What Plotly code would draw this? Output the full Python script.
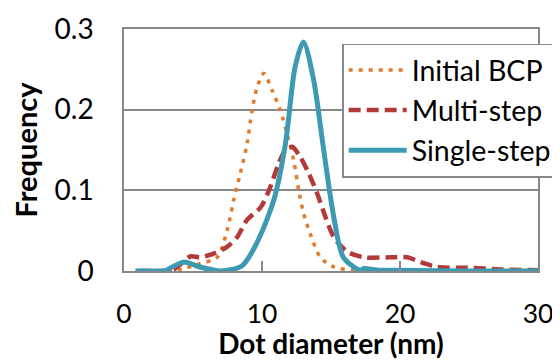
import plotly.graph_objects as go

x_initial = [1, 2, 3.6, 4.3, 5.5, 6.75, 7.47, 7.95, 8.43, 8.92, 9.28, 9.65, 10.13, 10.73, 11.33, 11.82, 12.3, 12.66, 13.02, 13.5, 14.23, 15.2, 16.6, 18, 20, 25, 30]
y_initial = [0, 0, 0, 0.003, 0.009, 0.017, 0.050, 0.088, 0.121, 0.158, 0.199, 0.228, 0.245, 0.224, 0.199, 0.170, 0.137, 0.100, 0.071, 0.046, 0.017, 0.005, 0.001, 0, 0, 0, 0]

x_multi = [1, 2, 3.6, 4.8, 5.5, 6.5, 7.47, 8.2, 8.9, 9.9, 10.6, 11.2, 11.7, 12.18, 12.78, 13.39, 14.0, 14.6, 15.2, 16.17, 17.37, 19.3, 20.5, 21.5, 22.7, 24.9, 27.3, 30]
y_multi = [0, 0, 0.002, 0.018, 0.017, 0.0215, 0.030, 0.042, 0.063, 0.079, 0.104, 0.133, 0.150, 0.154, 0.141, 0.121, 0.096, 0.067, 0.042, 0.024, 0.017, 0.017, 0.017, 0.011, 0.005, 0.004, 0.002, 0.001]

x_single = [0.83, 2, 2.9, 4.3, 5.5, 7.0, 8.56, 9.6, 10.85, 11.7, 12.4, 13.0, 13.75, 14.47, 15.2, 15.9, 17.1, 17.4, 18.5, 20, 25, 30]
y_single = [0, 0, 0, 0.011, 0.005, 0, 0.0066, 0.034, 0.0876, 0.158, 0.253, 0.284, 0.236, 0.150, 0.067, 0.017, 0.001, 0.003, 0.001, 0.001, 0, 0]

series_names = ["Initial BCP", "Multi-step", "Single-step"]
x_ticks = [0, 10, 20, 30]
y_ticks = [0, 0.1, 0.2, 0.3]
y_tick_labels = ["0", "0.1", "0.2", "0.3"]

FONT = "Lato"

fig = go.Figure()
fig.add_trace(go.Scatter(
    x=x_initial, y=y_initial, name=series_names[0], mode="lines", legendgroup="a",
    line=dict(color="#E07B2E", width=3.5, dash="4px,6px", shape="spline", smoothing=0.8),
))
fig.add_trace(go.Scatter(
    x=x_multi, y=y_multi, name=series_names[1], mode="lines", legendgroup="b",
    line=dict(color="#B33A3A", width=4.5, dash="12px,6px", shape="spline", smoothing=0.8),
))
fig.add_trace(go.Scatter(
    x=x_single, y=y_single, name=series_names[2], mode="lines", legendgroup="c",
    line=dict(color="#3C9AB2", width=5, shape="spline", smoothing=0.8),
))

# the page places the figure 8px from the top-left corner
fig.update_layout(
    width=552, height=352,
    margin=dict(l=115.5, r=22.3, t=20.5, b=89.3, autoexpand=False),
    paper_bgcolor="white", plot_bgcolor="white",
    font=dict(family=FONT, size=28, color="black"),
    showlegend=True,
    legend=dict(
        x=0.527, y=0.94, xanchor="left", yanchor="top",
        bgcolor="white", bordercolor="#888888", borderwidth=1.5,
        font=dict(family=FONT, size=28.5, color="black"),
        itemwidth=58, tracegroupgap=0, traceorder="grouped",
    ),
)
fig.update_xaxes(
    range=[0, 30], tickvals=x_ticks, ticktext=[str(t) for t in x_ticks],
    showgrid=False, zeroline=False, automargin=False,
    showline=True, linecolor="#888888", linewidth=1.5, mirror=True,
    ticks="inside", ticklen=10, tickcolor="#888888", tickwidth=1.5,
    ticklabelstandoff=18,
    tickfont=dict(family=FONT, size=26.5),
    title=dict(text="<b>Dot diameter (nm)</b>", font=dict(family=FONT, size=28), standoff=2),
)
fig.update_yaxes(
    range=[0, 0.3], tickvals=y_ticks, ticktext=y_tick_labels,
    showgrid=True, gridcolor="#888888", gridwidth=1.5, zeroline=False, automargin=False,
    showline=True, linecolor="#888888", linewidth=1.5, mirror=True,
    ticks="", ticklabelstandoff=23,
    tickfont=dict(family=FONT, size=28),
    title=dict(text="<b>Frequency</b>", font=dict(family=FONT, size=29), standoff=12),
)

fig.write_html("out.html")
